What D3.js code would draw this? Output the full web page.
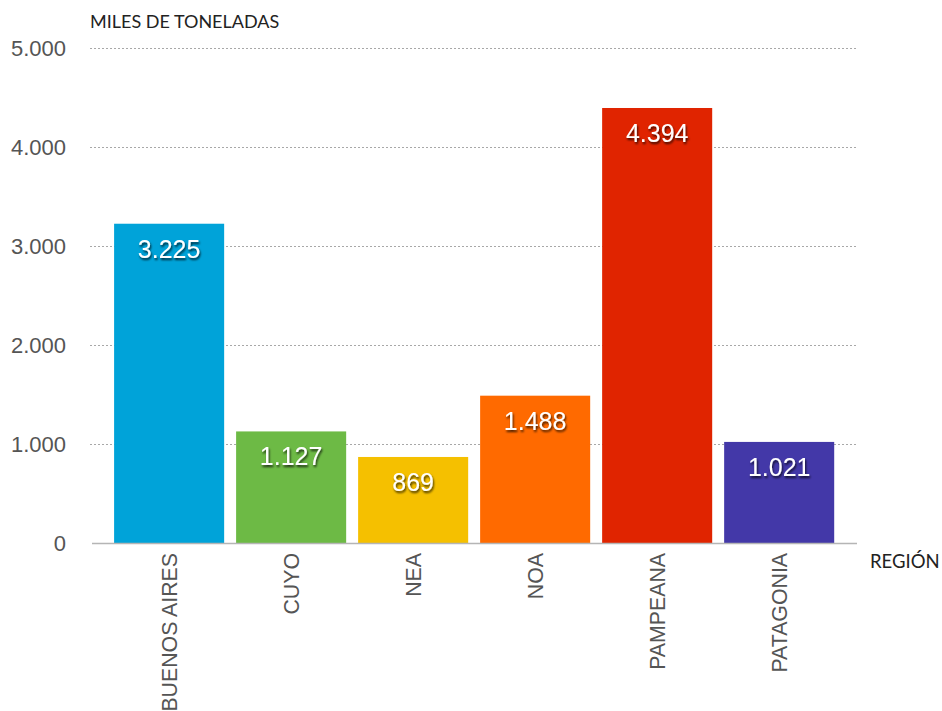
<!DOCTYPE html>
<html><head><meta charset="utf-8">
<script src="https://cdn.jsdelivr.net/npm/d3@7"></script>
<style>body{margin:0;background:#fff;} svg{display:block;}</style>
</head><body>
<svg id="c" width="942" height="711"></svg>
<script>
const categories = ["BUENOS AIRES","CUYO","NEA","NOA","PAMPEANA","PATAGONIA"];
const values = [3225,1127,869,1488,4394,1021];
const valueLabels = ["3.225","1.127","869","1.488","4.394","1.021"];
const colors = ["#00a3d9","#6dba45","#f5c000","#ff6a00","#e02400","#4338a8"];
const yTicks = [0,1000,2000,3000,4000,5000];
const yTickLabels = ["0","1.000","2.000","3.000","4.000","5.000"];

const svg = d3.select("#c");
const defs = svg.append("defs");
const f = defs.append("filter").attr("id","sh").attr("x","-20%").attr("y","-30%").attr("width","140%").attr("height","170%");
f.append("feDropShadow").attr("dx",1).attr("dy",2).attr("stdDeviation",1.3).attr("flood-color","#000").attr("flood-opacity",0.75);

const y = d3.scaleLinear().domain([0,5000]).range([543,48]);
const x = d3.scaleBand().domain(categories).range([108,840.3]).paddingInner(0.098).paddingOuter(0.05);

// gridlines
svg.append("g").selectAll("line").data(yTicks.slice(1)).join("line")
  .attr("x1",90).attr("x2",857).attr("y1",d=>y(d)+0.5).attr("y2",d=>y(d)+0.5)
  .attr("stroke","#a8a8a8").attr("stroke-width",1).attr("stroke-dasharray","2,2");

// y tick labels
svg.append("g").selectAll("text").data(yTicks).join("text")
  .attr("x",66).attr("y",d=>y(d)).attr("dy","0.35em").attr("text-anchor","end")
  .attr("font-family","Liberation Sans, Arial, sans-serif").attr("font-size",22).attr("fill","#555")
  .text((d,i)=>yTickLabels[i]);

// bars
svg.append("g").selectAll("rect").data(values).join("rect")
  .attr("x",(d,i)=>x(categories[i])).attr("width",x.bandwidth())
  .attr("y",d=>y(d)).attr("height",d=>y(0)-y(d))
  .attr("fill",(d,i)=>colors[i]);

// axis line
svg.append("line").attr("x1",92).attr("x2",857).attr("y1",543.5).attr("y2",543.5)
  .attr("stroke","#b5b5b5").attr("stroke-width",1.5);

// value labels
svg.append("g").selectAll("text").data(values).join("text")
  .attr("x",(d,i)=>x(categories[i])+x.bandwidth()/2).attr("y",d=>y(d)+34)
  .attr("text-anchor","middle").attr("font-family","Liberation Sans, Arial, sans-serif")
  .attr("font-size",25).attr("fill","#fff").attr("filter","url(#sh)")
  .text((d,i)=>valueLabels[i]);

// x labels rotated
svg.append("g").selectAll("text").data(categories).join("text")
  .attr("transform",d=>`translate(${x(d)+x.bandwidth()/2+7.5},553) rotate(-90)`)
  .attr("text-anchor","end").attr("font-family","Liberation Sans, Arial, sans-serif")
  .attr("font-size",21.3).attr("fill","#555").text(d=>d);

// axis titles
svg.append("text").attr("x",90).attr("y",22).attr("dy","0.35em")
  .attr("font-family","Lato, sans-serif").attr("font-size",18).attr("fill","#222").text("MILES DE TONELADAS");
svg.append("text").attr("x",870).attr("y",562).attr("dy","0.35em")
  .attr("font-family","Lato, sans-serif").attr("font-size",18.5).attr("fill","#222").text("REGIÓN");
</script>
</body></html>
